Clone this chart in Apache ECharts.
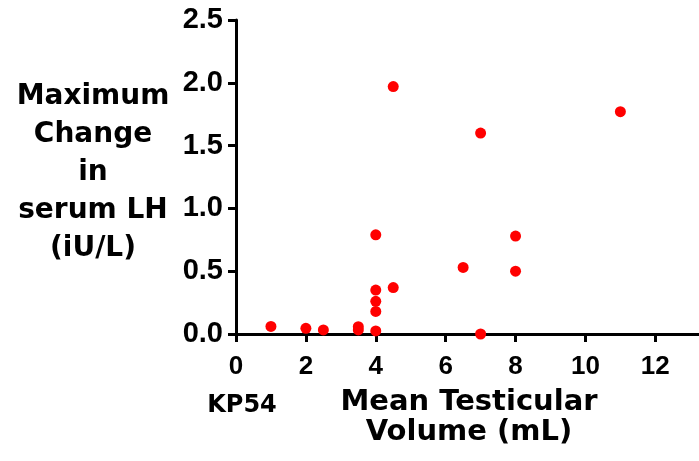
<!DOCTYPE html>
<html>
<head>
<meta charset="utf-8">
<script src="https://cdn.jsdelivr.net/npm/echarts@6/dist/echarts.min.js"></script>
<style>
  html, body { margin: 0; padding: 0; background: #fff; }
  #chart { width: 699px; height: 461px; }
</style>
</head>
<body>
<div id="chart"></div>
<script>
// testicular volume (mL) vs max change in LH
const volume = [1, 2, 2.5, 3.5, 3.5, 4, 4, 4, 4, 4, 4.5, 4.5, 6.5, 7, 7, 8, 8, 11]
const lhChange = [0.06, 0.045, 0.032, 0.058, 0.032, 0.024, 0.18, 0.26, 0.35, 0.79, 0.37, 1.97, 0.53, 1.6, 0.0, 0.78, 0.5, 1.77]
const yTitle = 'Maximum\nChange\nin\nserum LH\n(iU/L)'
const xTitle = 'Mean Testicular\nVolume (mL)'
const groupLabel = 'KP54'

const points = volume.map((v, i) => [v, lhChange[i]])

const chart = echarts.init(document.getElementById('chart'))
const boldFont = 'DejaVu Sans'
const tickFont = 'Arial, "Liberation Sans", sans-serif'

chart.setOption({
  animation: false,
  grid: {
    left: 236,
    right: 0,
    top: 20,
    bottom: 127
  },
  xAxis: {
    type: 'value',
    min: 0,
    max: 13.25,
    interval: 2,
    splitLine: { show: false },
    axisLine: { lineStyle: { color: '#000', width: 3 } },
    axisTick: { length: 8, lineStyle: { color: '#000', width: 3 } },
    axisLabel: {
      showMaxLabel: false,
      margin: 20,
      color: '#000',
      fontFamily: tickFont,
      fontWeight: 'bold',
      fontSize: 26
    }
  },
  yAxis: {
    type: 'value',
    min: 0,
    max: 2.5,
    interval: 0.5,
    splitLine: { show: false },
    axisLine: { lineStyle: { color: '#000', width: 3 } },
    axisTick: { length: 8, lineStyle: { color: '#000', width: 3 } },
    axisLabel: {
      margin: 13,
      color: '#000',
      fontFamily: tickFont,
      fontWeight: 'bold',
      fontSize: 29,
      formatter: v => v.toFixed(1)
    }
  },
  graphic: [
    {
      type: 'text',
      x: 93,
      y: 78,
      style: {
        text: yTitle,
        align: 'center',
        fill: '#000',
        font: 'bold 28px "' + boldFont + '"',
        lineHeight: 38
      }
    },
    {
      type: 'text',
      x: 469,
      y: 387,
      style: {
        text: xTitle,
        align: 'center',
        fill: '#000',
        font: 'bold 29px "' + boldFont + '"',
        lineHeight: 30
      }
    },
    {
      type: 'text',
      x: 242,
      y: 394,
      style: {
        text: groupLabel,
        align: 'center',
        fill: '#000',
        font: 'bold 24px "' + boldFont + '"'
      }
    }
  ],
  series: [{
    type: 'scatter',
    symbol: 'circle',
    symbolSize: 11,
    itemStyle: { color: '#ff0000', opacity: 1 },
    data: points
  }]
})
</script>
</body>
</html>
